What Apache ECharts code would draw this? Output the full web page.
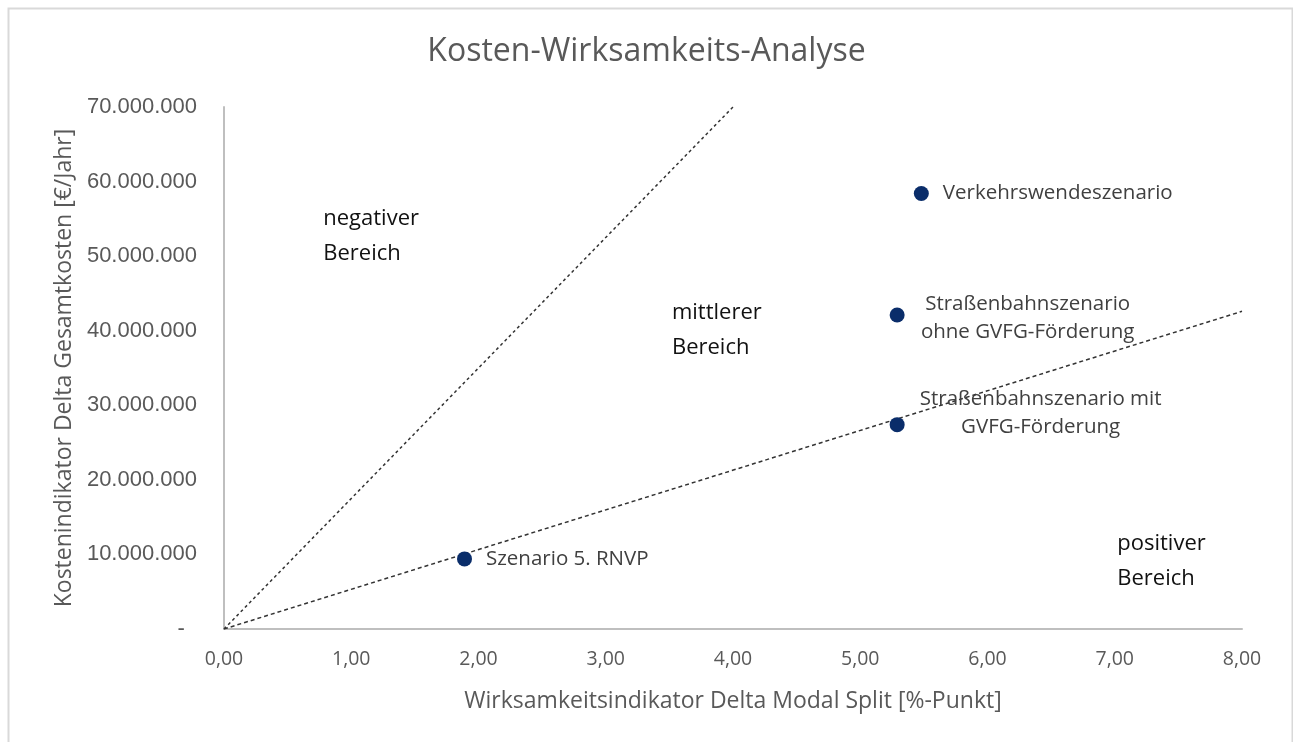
<!DOCTYPE html>
<html>
<head>
<meta charset="utf-8">
<script src="https://cdn.jsdelivr.net/npm/echarts@6/dist/echarts.min.js"></script>
<style>
html,body{margin:0;padding:0;background:#fff;}
#chart{width:1293px;height:742px;}
</style>
</head>
<body>
<div id="chart"></div>
<script>
// Scenario points
const scenarioNames = ['Szenario 5. RNVP', 'Straßenbahnszenario mit\nGVFG-Förderung', 'Straßenbahnszenario\nohne GVFG-Förderung', 'Verkehrswendeszenario'];
const scenarioX = [1.89, 5.29, 5.29, 5.48];
const scenarioY = [9400000, 27400000, 42100000, 58400000];

// Dividing lines (through origin)
const steepLineX = [0, 4.0];
const steepLineY = [0, 70000000];
const flatLineX = [0, 8.0];
const flatLineY = [0, 42600000];

// Region annotations
const regionLabels = ['negativer\nBereich', 'mittlerer\nBereich', 'positiver\nBereich'];
const regionX = [0.78, 3.52, 7.02];
const regionY = [52700000, 40000000, 9150000];

// Axis ticks
const xTicks = [0, 1, 2, 3, 4, 5, 6, 7, 8];
const yTicks = [0, 10000000, 20000000, 30000000, 40000000, 50000000, 60000000, 70000000];

const gray = '#595959';
const fontMain = '"Open Sans", "Noto Sans", sans-serif';

function fmtY(v) {
  if (v === 0) return '-  ';
  return String(Math.round(v)).replace(/\B(?=(\d{3})+(?!\d))/g, '.');
}
function fmtX(v) { return v.toFixed(2).replace('.', ','); }

const labelCfg = [
  { position: 'right', distance: 14, align: 'left' },
  { position: 'right', distance: 6, align: 'center', offset: [130, -12] },
  { position: 'right', distance: 6, align: 'center', offset: [117, 3] },
  { position: 'right', distance: 14, align: 'left' }
];

const scatterData = scenarioX.map((x, i) => ({
  value: [x, scenarioY[i], scenarioNames[i]],
  label: Object.assign({
    show: true,
    formatter: scenarioNames[i],
    color: '#404040',
    fontSize: 20.5,
    fontFamily: fontMain,
    lineHeight: 28
  }, labelCfg[i])
}));

const regionData = regionX.map((x, i) => ({
  value: [x, regionY[i]],
  label: {
    show: true,
    formatter: regionLabels[i],
    position: 'inside',
    align: 'left',
    verticalAlign: 'middle',
    color: '#111111',
    fontSize: 22,
    fontFamily: fontMain,
    lineHeight: 35
  }
}));

const chart = echarts.init(document.getElementById('chart'), null, { renderer: 'canvas' });
chart.setOption({
  backgroundColor: '#fff',
  animation: false,
  title: {
    text: 'Kosten-Wirksamkeits-Analyse',
    left: 'center',
    top: 31,
    textStyle: { color: gray, fontSize: 32, fontWeight: 'normal', fontFamily: fontMain }
  },
  graphic: [{
    type: 'rect',
    shape: { x: 8.5, y: 8.5, width: 1284, height: 760 },
    style: { fill: 'none', stroke: '#d9d9d9', lineWidth: 2 },
    silent: true
  }],
  grid: { left: 224, right: 51, top: 107, bottom: 113, containLabel: false },
  xAxis: {
    type: 'value',
    min: 0, max: 8, interval: 1,
    axisLine: { show: true, lineStyle: { color: '#bfbfbf', width: 2 } },
    axisTick: { show: false },
    splitLine: { show: false },
    axisLabel: { formatter: fmtX, color: gray, fontSize: 19.5, fontFamily: fontMain, margin: 20 },
    name: 'Wirksamkeitsindikator Delta Modal Split [%-Punkt]',
    nameLocation: 'middle',
    nameGap: 61,
    nameTextStyle: { color: gray, fontSize: 23, fontFamily: fontMain }
  },
  yAxis: {
    type: 'value',
    min: 0, max: 70000000, interval: 10000000,
    axisLine: { show: true, lineStyle: { color: '#bfbfbf', width: 2 } },
    axisTick: { show: false },
    splitLine: { show: false },
    axisLabel: { formatter: fmtY, color: gray, fontSize: 22, fontFamily: '"Liberation Sans", Arial, sans-serif', margin: 27 },
    name: 'Kostenindikator Delta Gesamtkosten [€/Jahr]',
    nameLocation: 'middle',
    nameGap: 148,
    nameTextStyle: { color: gray, fontSize: 23, fontFamily: fontMain }
  },
  series: [
    {
      type: 'line',
      data: steepLineX.map((x, i) => [x, steepLineY[i]]),
      symbol: 'none',
      lineStyle: { color: '#333', width: 1.5, type: [3, 3] },
      silent: true, z: 2
    },
    {
      type: 'line',
      data: flatLineX.map((x, i) => [x, flatLineY[i]]),
      symbol: 'none',
      lineStyle: { color: '#333', width: 1.5, type: [4, 3] },
      silent: true, z: 2
    },
    {
      type: 'scatter',
      data: scatterData,
      symbol: 'circle',
      symbolSize: 15,
      itemStyle: { color: '#0a2d6a', opacity: 1 },
      z: 5
    },
    {
      type: 'scatter',
      data: regionData,
      symbol: 'circle',
      symbolSize: 1,
      itemStyle: { color: 'rgba(0,0,0,0)', opacity: 1 },
      silent: true,
      z: 4
    }
  ]
});
</script>
</body>
</html>
